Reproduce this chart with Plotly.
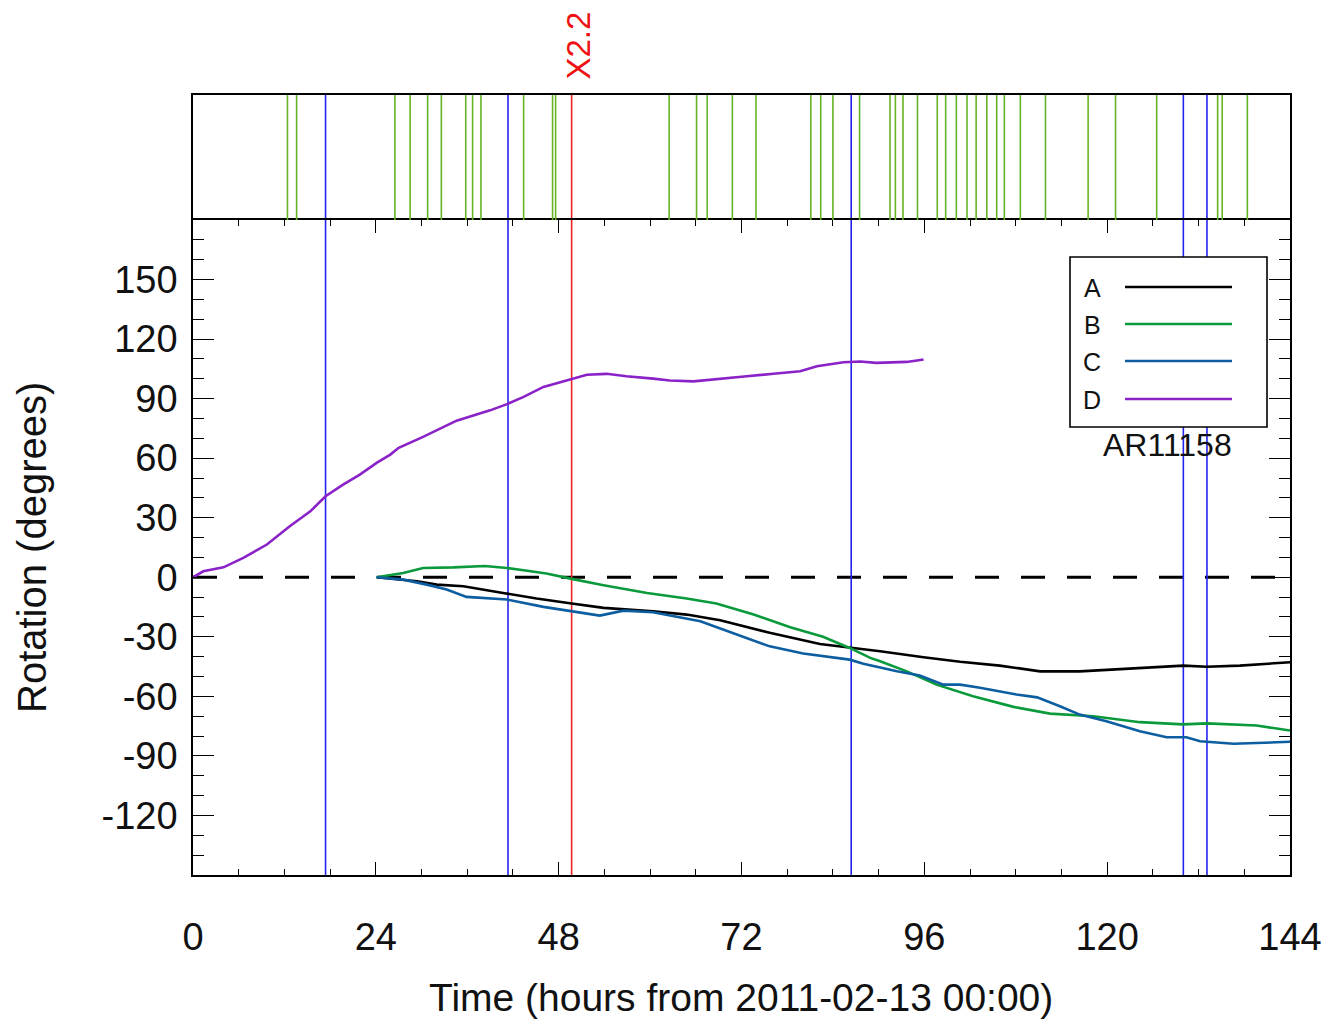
import plotly.graph_objects as go

# ---------------- data ----------------
D_T = [0, 1.35, 4.0, 6.6, 9.7, 12.7, 15.4, 17.4, 19.7, 21.9, 24.1, 25.9, 27.0, 30.2, 34.6, 39.0, 41.4,
       43.4, 46.0, 48.2, 49.7, 51.7, 54.3, 56.9, 60.4, 62.6, 65.7, 68.7, 72.7, 76.2, 79.7, 81.9, 85.4,
       87.6, 89.7, 93.7, 95.9]
D_V = [0, 3, 5, 9.8, 16.5, 25.7, 33.2, 40.8, 46.7, 51.7, 57.6, 61.8, 65.2, 70.7, 78.9, 84.1, 87.5,
       90.9, 95.9, 98.4, 99.9, 102, 102.5, 101.3, 100.1, 99.1, 98.7, 99.9, 101.3, 102.5, 103.8, 106.3, 108.3,
       108.7, 108, 108.5, 109.7]

A_T = [24.1, 29.4, 32.0, 35.5, 40.7, 45.1, 49.7, 53.9, 60.4, 64.8, 69.2, 75.7, 82.3, 86.2, 90.2, 95.9,
       100.7, 105.9, 111.2, 116.4, 122.1, 130.0, 133.1, 137.4, 144]
A_V = [0, -2.0, -3.7, -4.5, -7.9, -10.7, -13.2, -15.4, -17.1, -18.8, -21.7, -28.0, -33.6, -35.3, -37.3,
       -40.3, -42.6, -44.5, -47.4, -47.4, -46.1, -44.5, -45.1, -44.5, -42.8]

B_T = [24.1, 27.6, 30.2, 34.2, 38.3, 41.2, 43.4, 46.4, 49.7, 53.9, 59.6, 64.8, 68.7, 73.6, 78.4, 82.7,
       86.2, 88.9, 90.2, 93.7, 97.6, 102.4, 107.7, 112.5, 118.2, 124.3, 130.0, 133.1, 139.6, 144]
B_V = [0, 2.2, 4.7, 5.0, 5.7, 4.7, 3.5, 1.9, -0.8, -4.0, -7.9, -10.7, -13.2, -18.8, -25.2, -30.0,
       -35.6, -40.6, -42.3, -47.4, -54.1, -59.9, -65.3, -68.7, -70.0, -73.0, -74.1, -73.6, -74.7, -77.2]

C_T = [24.1, 27.6, 30.7, 33.3, 35.9, 41.2, 46.0, 49.7, 53.4, 56.5, 60.4, 66.6, 71.4, 75.7, 80.1, 86.2,
       88.0, 92.4, 95.4, 98.5, 100.7, 103.3, 108.1, 110.8, 113.8, 116.4, 119.9, 124.3, 127.8, 130.4,
       132.2, 136.6, 144]
C_V = [0, -1.2, -3.7, -6.2, -9.9, -11.2, -14.9, -17.1, -19.3, -16.8, -17.6, -22.2, -28.9, -34.8, -38.4,
       -41.5, -43.6, -47.4, -49.5, -54.1, -54.1, -55.7, -59.1, -60.5, -65.0, -69.2, -72.5, -77.6, -80.6,
       -80.6, -82.6, -83.9, -82.9]

GREEN_FLARES = [12.4, 13.6, 26.5, 28.5, 30.8, 32.6, 35.8, 36.7, 37.8, 43.4, 47.2, 47.6, 62.5, 66.1, 67.5,
                70.8, 73.9, 81.1, 82.4, 84.0, 87.5, 91.5, 92.2, 93.2, 95.1, 97.7, 98.8, 100.2, 101.6,
                102.8, 104.2, 105.5, 106.5, 108.6, 111.9, 117.5, 121.1, 126.5, 134.5, 135.1, 138.4]
BLUE_FLARES = [17.4, 41.35, 86.4, 130.0, 133.1]
RED_FLARE = 49.7
RED_LABEL = "X2.2"

SERIES_NAMES = ["A", "B", "C", "D"]
SERIES_COLORS = ["#000000", "#0a9a3c", "#0c5ea0", "#8a22c8"]

X_TICKS = [0, 24, 48, 72, 96, 120, 144]
Y_TICKS = [-120, -90, -60, -30, 0, 30, 60, 90, 120, 150]

# ---------------- layout geometry (page pixels) ----------------
OFF = 8                      # default page body margin
W, H = 1330 - 2 * OFF, 1027 - 2 * OFF
L, R, T, B = 193, 1290, 95, 875
SPLIT = 220
FONT = "Liberation Sans, Arial, Helvetica, sans-serif"


def px_x(px):
    return (px - L) / (R - L)


def px_y(py):
    return (B - py) / (B - T)


split_frac = px_y(SPLIT)

fig = go.Figure()

series = [(A_T, A_V), (B_T, B_V), (C_T, C_V), (D_T, D_V)]
for (t, v), name, col in zip(series, SERIES_NAMES, SERIES_COLORS):
    fig.add_trace(go.Scatter(x=t, y=v, mode="lines", name=name,
                             line=dict(color=col, width=2.6), showlegend=False,
                             xaxis="x", yaxis="y"))

shapes = []
shapes.append(dict(type="line", xref="x domain", yref="y", x0=0, x1=1, y0=0, y1=0,
                   line=dict(color="black", width=3, dash="24px,22px"), layer="below"))
for f in GREEN_FLARES:
    shapes.append(dict(type="line", xref="x", yref="y2 domain", x0=f, x1=f, y0=0, y1=1,
                       line=dict(color="#66b425", width=1.6)))
for f in BLUE_FLARES:
    shapes.append(dict(type="line", xref="x", yref="paper", x0=f, x1=f, y0=0, y1=1,
                       line=dict(color="#2424ee", width=1.6), layer="below"))
shapes.append(dict(type="line", xref="x", yref="paper", x0=RED_FLARE, x1=RED_FLARE, y0=0, y1=1,
                   line=dict(color="#ee2222", width=1.6), layer="below"))

# custom legend box (label left, line right)
shapes.append(dict(type="rect", xref="paper", yref="paper",
                   x0=px_x(1070), x1=px_x(1267), y0=px_y(427), y1=px_y(257),
                   line=dict(color="black", width=1.6), fillcolor="white", layer="above"))
annotations = []
leg_y = [287, 324, 361, 399]
for name, col, yy in zip(SERIES_NAMES, SERIES_COLORS, leg_y):
    shapes.append(dict(type="line", xref="paper", yref="paper",
                       x0=px_x(1125), x1=px_x(1232), y0=px_y(yy), y1=px_y(yy),
                       line=dict(color=col, width=2.4), layer="above"))
    annotations.append(dict(xref="paper", yref="paper", x=px_x(1092), y=px_y(yy + 1),
                            text=name, showarrow=False, xanchor="center", yanchor="middle",
                            font=dict(family=FONT, size=25, color="#111")))
annotations.append(dict(xref="paper", yref="paper", x=px_x(1167), y=px_y(445),
                        text="AR11158", showarrow=False, xanchor="center", yanchor="middle",
                        font=dict(family=FONT, size=32, color="#111")))
annotations.append(dict(xref="x", yref="paper", x=RED_FLARE, y=px_y(46), text=RED_LABEL,
                        textangle=-90, showarrow=False, xanchor="center", yanchor="middle",
                        xshift=6, font=dict(family=FONT, size=33, color="#ee1111")))
annotations.append(dict(xref="paper", yref="paper", x=px_x(741), y=px_y(998),
                        text="Time (hours from 2011-02-13 00:00)", showarrow=False,
                        xanchor="center", yanchor="middle",
                        font=dict(family=FONT, size=39, color="#111")))
annotations.append(dict(xref="paper", yref="paper", x=px_x(32), y=px_y(548),
                        text="Rotation (degrees)", showarrow=False, textangle=-90,
                        xanchor="center", yanchor="middle",
                        font=dict(family=FONT, size=40, color="#111")))

axis_line = dict(showline=True, linecolor="black", linewidth=1.6, mirror="allticks",
                 showgrid=False, zeroline=False, automargin=False)

fig.update_layout(
    width=W, height=H, autosize=False,
    margin=dict(l=L - OFF, r=(W + OFF) - R, t=T - OFF, b=(H + OFF) - B, pad=0, autoexpand=False),
    paper_bgcolor="white", plot_bgcolor="white",
    font=dict(family=FONT, color="#111"),
    shapes=shapes, annotations=annotations, showlegend=False,
    xaxis=dict(domain=[0, 1], range=[0, 144], anchor="y",
               tickmode="array", tickvals=X_TICKS, ticktext=[str(v) for v in X_TICKS],
               ticks="inside", ticklen=13, tickwidth=1.3, tickcolor="black",
               minor=dict(dtick=6, tick0=0, ticks="inside", ticklen=6, tickwidth=1.3, tickcolor="black"),
               tickfont=dict(family=FONT, size=38, color="#111"), ticklabelstandoff=28,
               **axis_line),
    yaxis=dict(domain=[0, split_frac], range=[-150, 180], anchor="x",
               tickmode="array", tickvals=Y_TICKS, ticktext=[str(v) for v in Y_TICKS],
               ticks="inside", ticklen=21, tickwidth=1.3, tickcolor="black",
               minor=dict(dtick=10, tick0=0, ticks="inside", ticklen=11, tickwidth=1.3, tickcolor="black"),
               tickfont=dict(family=FONT, size=38, color="#111"), ticklabelstandoff=6,
               **axis_line),
    xaxis2=dict(domain=[0, 1], range=[0, 144], anchor="y2", matches="x", side="top",
                showticklabels=False, ticks="", showline=True, linecolor="black",
                linewidth=1.6, mirror=False, showgrid=False, zeroline=False, automargin=False),
    yaxis2=dict(domain=[split_frac, 1], range=[0, 1], anchor="x2",
                showticklabels=False, ticks="", showline=True, linecolor="black",
                linewidth=1.6, mirror=True, showgrid=False, zeroline=False, automargin=False),
)

fig.add_trace(go.Scatter(x=[0, 144], y=[0, 1], mode="markers", marker=dict(opacity=0),
                         xaxis="x2", yaxis="y2", showlegend=False, hoverinfo="skip"))

fig.write_html("out.html")
